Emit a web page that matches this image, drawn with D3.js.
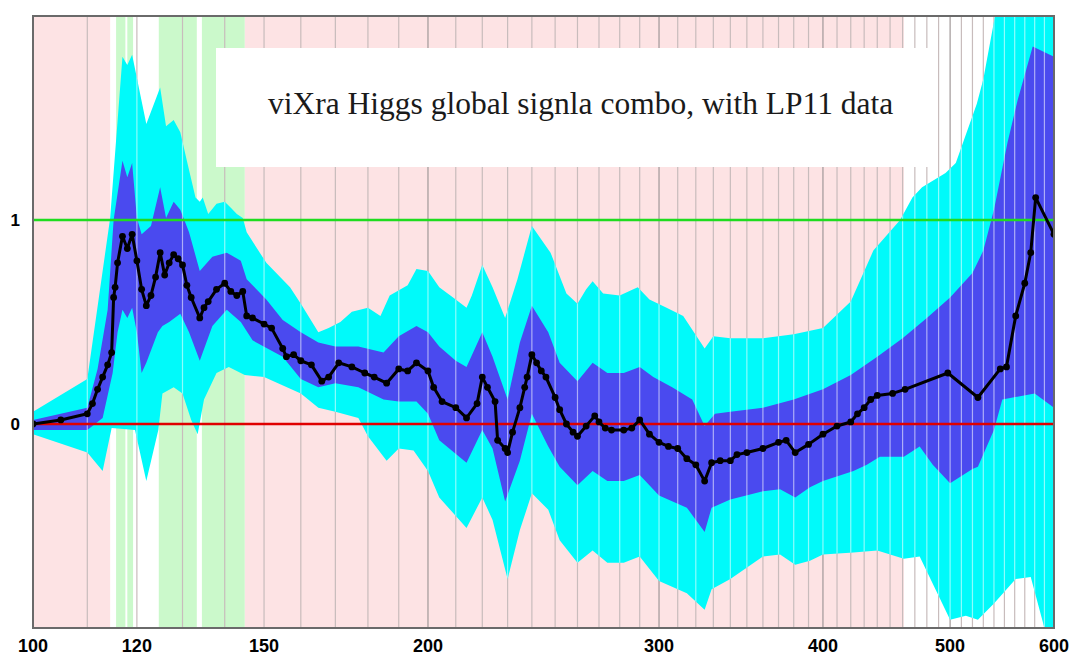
<!DOCTYPE html>
<html>
<head>
<meta charset="utf-8">
<script src="https://cdn.jsdelivr.net/npm/d3@7"></script>
<style>
  body { margin: 0; background: #fff; }
</style>
</head>
<body>
<div id="chart"></div>
<script>
// observed signal (black line with dots)
const obsMass = [100, 105, 110, 111, 112, 113, 114, 114.8, 115.2, 115.5, 116, 117, 118, 119, 120, 121, 122, 123, 124, 125,
  126, 127, 128, 129, 130, 131, 132, 134, 135, 136, 138, 140, 141.5, 143, 144.5, 145.5, 147, 150, 152, 155,
  156, 158, 160, 163, 166, 168, 171, 175, 179, 182, 186, 190, 193, 196, 200, 202, 205, 210, 214, 218,
  220, 222, 225, 226, 229, 230, 232, 235, 237, 238, 240, 242, 244, 246, 250, 252, 255, 258, 260, 264,
  268, 270, 273, 276, 282, 286, 290, 295, 300, 305, 310, 315, 320, 325, 329, 334, 340, 344, 350, 360,
  370, 375, 381, 390, 400, 410, 420, 425, 430, 435, 440, 452, 462, 498, 525, 546, 552, 561, 570, 576, 581, 600];
const obsValue = [0.00, 0.02, 0.05, 0.10, 0.17, 0.23, 0.29, 0.35, 0.62, 0.67, 0.79, 0.92, 0.86, 0.93, 0.80, 0.66, 0.58, 0.63, 0.72, 0.84,
  0.73, 0.79, 0.83, 0.81, 0.78, 0.68, 0.62, 0.52, 0.57, 0.60, 0.66, 0.69, 0.65, 0.63, 0.65, 0.53, 0.52, 0.49, 0.47, 0.37,
  0.33, 0.34, 0.31, 0.29, 0.21, 0.23, 0.30, 0.28, 0.25, 0.23, 0.20, 0.27, 0.26, 0.30, 0.26, 0.18, 0.11, 0.08, 0.03, 0.10,
  0.23, 0.18, 0.11, -0.08, -0.12, -0.14, -0.04, 0.08, 0.18, 0.23, 0.34, 0.30, 0.26, 0.23, 0.13, 0.07, 0.00, -0.04, -0.06, -0.01,
  0.04, 0.01, -0.02, -0.03, -0.03, -0.02, 0.02, -0.05, -0.09, -0.11, -0.12, -0.17, -0.20, -0.28, -0.19, -0.18, -0.18, -0.15, -0.14, -0.12,
  -0.09, -0.08, -0.14, -0.10, -0.05, -0.01, 0.01, 0.05, 0.08, 0.12, 0.14, 0.15, 0.17, 0.25, 0.13, 0.27, 0.28, 0.53, 0.69, 0.84, 1.11, 0.93];

// band edges as [mass, value]
const outerTop = [[100, 0.06], [110, 0.22], [114.5, 1.01], [117, 1.80], [118, 1.76], [119, 1.81], [122, 1.47], [125, 1.65],
  [126.3, 1.46], [128, 1.49], [129.5, 1.43], [131, 1.29], [133, 1.11], [134, 1.09], [134.7, 1.11], [136, 1.03], [138, 1.08],
  [140, 1.09], [141.5, 1.06], [143, 1.03], [144.5, 1.01], [145.5, 0.94], [150.6, 0.79], [157, 0.67], [160, 0.59], [165, 0.45],
  [168, 0.47], [171.5, 0.50], [175, 0.55], [180, 0.57], [184, 0.53], [187, 0.63], [193, 0.68], [196, 0.76], [200, 0.75],
  [204, 0.67], [209, 0.62], [214, 0.57], [216, 0.63], [220, 0.78], [224, 0.67], [229, 0.52], [234, 0.71], [240, 0.97],
  [248, 0.84], [255, 0.64], [260, 0.59], [264, 0.66], [267, 0.70], [272, 0.64], [280, 0.63], [289, 0.67], [295, 0.61],
  [304, 0.57], [313, 0.53], [325, 0.37], [330, 0.43], [340, 0.42], [360, 0.42], [380, 0.44], [400, 0.47], [420, 0.60],
  [437, 0.85], [458, 1.00], [468, 1.11], [476, 1.16], [496, 1.23], [505, 1.28], [524, 1.57], [530, 1.69], [541, 2.0],
  [560, 2.3], [600, 2.3]];
const innerTop = [[100, 0.02], [110, 0.08], [112, 0.27], [114, 0.56], [115.2, 1.00], [117, 1.29], [118, 1.21], [119, 1.28],
  [120, 1.01], [121, 0.93], [123, 0.97], [125, 1.16], [126.3, 1.01], [128, 1.09], [129.5, 1.05], [131.5, 0.94], [134, 0.75],
  [137, 0.82], [140.5, 0.84], [144, 0.80], [145.5, 0.71], [150.6, 0.61], [155, 0.51], [160, 0.45], [165, 0.40], [170, 0.38],
  [177, 0.38], [185, 0.35], [190, 0.43], [196, 0.48], [200, 0.45], [204, 0.38], [210, 0.31], [214, 0.28], [220, 0.45],
  [224, 0.33], [230, 0.12], [235, 0.40], [240, 0.58], [247, 0.45], [252, 0.30], [260, 0.21], [267, 0.30], [274, 0.25],
  [282, 0.25], [290, 0.28], [297, 0.23], [307, 0.18], [318, 0.12], [325, -0.01], [331, 0.05], [340, 0.06], [360, 0.08],
  [380, 0.12], [400, 0.17], [420, 0.24], [440, 0.33], [460, 0.42], [480, 0.52], [500, 0.62], [520, 0.74], [530, 0.85],
  [540, 1.05], [553, 1.38], [563, 1.59], [578, 1.85], [600, 1.80]];
const innerBottom = [[100, -0.03], [110, -0.03], [113, 0.03], [115, 0.25], [116, 0.45], [117, 0.56], [118, 0.52], [119, 0.57],
  [120, 0.45], [121, 0.25], [122, 0.30], [124.5, 0.45], [125.5, 0.48], [127, 0.50], [129.5, 0.54], [131.5, 0.45], [134, 0.31],
  [137, 0.48], [140.5, 0.56], [144, 0.50], [147, 0.41], [155, 0.33], [160, 0.22], [165, 0.18], [170, 0.20], [177, 0.18],
  [185, 0.12], [190, 0.11], [196, 0.11], [200, 0.05], [204, -0.08], [214, -0.19], [220, -0.03], [224, -0.12], [229, -0.38],
  [235, -0.18], [240, 0.05], [247, -0.11], [252, -0.21], [260, -0.30], [267, -0.23], [274, -0.28], [282, -0.28], [290, -0.25],
  [300, -0.35], [315, -0.41], [325, -0.53], [329, -0.41], [340, -0.37], [360, -0.33], [371, -0.32], [381, -0.36], [391, -0.31],
  [400, -0.28], [422, -0.23], [432, -0.20], [442, -0.16], [461, -0.16], [474, -0.11], [485, -0.20], [500, -0.29], [520, -0.22],
  [525, -0.21], [540, -0.03], [548, 0.12], [580, 0.15], [600, 0.08]];
const outerBottom = [[100, -0.05], [110, -0.14], [113, -0.23], [114.8, -0.02], [119.6, -0.03], [122, -0.28], [124.6, -0.03],
  [125.5, 0.15], [128, 0.18], [130, 0.15], [132, 0.02], [133.5, -0.05], [135, 0.12], [138, 0.25], [141, 0.28], [145, 0.24],
  [150, 0.23], [160, 0.15], [165, 0.08], [170, 0.06], [177, 0.03], [180, -0.06], [186, -0.18], [190, -0.12], [195, -0.13],
  [200, -0.23], [204, -0.36], [214, -0.51], [220, -0.36], [224, -0.47], [230, -0.76], [235, -0.52], [240, -0.34], [247, -0.42],
  [252, -0.57], [260, -0.68], [267, -0.62], [274, -0.68], [282, -0.68], [290, -0.65], [300, -0.77], [315, -0.83], [325, -0.91],
  [329, -0.81], [340, -0.76], [360, -0.65], [371, -0.64], [381, -0.69], [391, -0.67], [400, -0.64], [422, -0.63], [440, -0.62],
  [461, -0.66], [474, -0.65], [500, -0.96], [514, -0.94], [525, -0.96], [540, -0.88], [561, -0.76], [576, -0.75], [590, -1.0],
  [600, -1.3]];

// background zones (mass ranges)
const excludedZones = [[100, 114.5], [145, 461]];
const greenZones = [[115.7, 117.6], [118.0, 119.2], [124.7, 133.3], [134.5, 145]];

const xTicks = [100, 120, 150, 200, 300, 400, 500, 600];
const yTicks = [0, 1];
const title = "viXra Higgs global signla combo, with LP11 data";

const width = 1075, height = 655;
const plotL = 33, plotR = 1054, plotT = 16, plotB = 628;

const svg = d3.select("#chart").append("svg")
  .attr("width", width)
  .attr("height", height)
  .style("display", "block");

const x = d3.scaleLog().domain([100, 600]).range([plotL, plotR]);
const y = d3.scaleLinear().domain([-1, 2]).range([plotB, plotT]);

const defs = svg.append("defs");
defs.append("clipPath").attr("id", "plotClip")
  .append("rect")
  .attr("x", plotL).attr("y", plotT)
  .attr("width", plotR - plotL).attr("height", plotB - plotT);

const plot = svg.append("g").attr("clip-path", "url(#plotClip)");

// background
plot.append("rect")
  .attr("x", plotL).attr("y", plotT)
  .attr("width", plotR - plotL).attr("height", plotB - plotT)
  .attr("fill", "#fff");

plot.selectAll(".excl").data(excludedZones).join("rect")
  .attr("class", "excl")
  .attr("x", d => x(d[0])).attr("y", plotT)
  .attr("width", d => x(d[1]) - x(d[0])).attr("height", plotB - plotT)
  .attr("fill", "#fde3e4");

plot.selectAll(".green").data(greenZones).join("rect")
  .attr("class", "green")
  .attr("x", d => x(d[0])).attr("y", plotT)
  .attr("width", d => x(d[1]) - x(d[0])).attr("height", plotB - plotT)
  .attr("fill", "#cbf9cb");

// grid lines every 10 GeV
const gridMasses = d3.range(110, 600, 10);
const isMajor = m => m % 100 === 0;

plot.selectAll(".grid").data(gridMasses).join("line")
  .attr("class", "grid")
  .attr("x1", d => x(d)).attr("x2", d => x(d))
  .attr("y1", plotT).attr("y2", plotB)
  .attr("stroke", d => isMajor(d) ? "#a09898" : "#c8bcbc")
  .attr("stroke-width", 1.2);

// bands
const line = d3.line().x(d => x(d[0])).y(d => y(d[1]));
const bandPath = (hi, lo) => line(hi.concat(lo.slice().reverse())) + "Z";

plot.append("path")
  .attr("d", bandPath(outerTop, outerBottom))
  .attr("fill", "#00fafa");

plot.append("path")
  .attr("d", bandPath(innerTop, innerBottom))
  .attr("fill", "#4a4aef");

// light seams over the bands
defs.append("clipPath").attr("id", "bandClip")
  .append("path")
  .attr("d", bandPath(outerTop, outerBottom));

plot.append("g").attr("clip-path", "url(#bandClip)")
  .selectAll("line").data(gridMasses).join("line")
  .attr("x1", d => x(d)).attr("x2", d => x(d))
  .attr("y1", plotT).attr("y2", plotB)
  .attr("stroke", "#fff")
  .attr("stroke-opacity", 0.55)
  .attr("stroke-width", 1.2);

// reference lines
plot.append("line")
  .attr("x1", plotL).attr("x2", plotR)
  .attr("y1", y(1)).attr("y2", y(1))
  .attr("stroke", "#1fdc1f").attr("stroke-width", 2.5);

plot.append("line")
  .attr("x1", plotL).attr("x2", plotR)
  .attr("y1", y(0)).attr("y2", y(0))
  .attr("stroke", "#e00000").attr("stroke-width", 2.5);

// observed
const obs = obsMass.map((m, i) => [m, obsValue[i]]);

plot.append("path")
  .attr("d", line(obs))
  .attr("fill", "none")
  .attr("stroke", "#000")
  .attr("stroke-width", 3)
  .attr("stroke-linejoin", "round");

plot.selectAll(".dot").data(obs).join("circle")
  .attr("class", "dot")
  .attr("cx", d => x(d[0])).attr("cy", d => y(d[1]))
  .attr("r", 3.4)
  .attr("fill", "#000");

// title box
svg.append("rect")
  .attr("x", 216).attr("y", 48)
  .attr("width", 716).attr("height", 119)
  .attr("fill", "#fff");

svg.append("text")
  .attr("x", 268).attr("y", 114)
  .attr("font-family", "'Liberation Serif', 'Times New Roman', serif")
  .attr("font-size", 31.5)
  .attr("fill", "#1a1a1a")
  .text(title);

// frame
svg.append("rect")
  .attr("x", plotL).attr("y", plotT)
  .attr("width", plotR - plotL).attr("height", plotB - plotT)
  .attr("fill", "none")
  .attr("stroke", "#6a6a6a")
  .attr("stroke-width", 2);

// axis labels
svg.selectAll(".xlab").data(xTicks).join("text")
  .attr("class", "xlab")
  .attr("x", d => x(d)).attr("y", 652)
  .attr("text-anchor", "middle")
  .attr("font-family", "'Liberation Sans', Arial, sans-serif")
  .attr("font-weight", "bold")
  .attr("font-size", 18)
  .attr("fill", "#000")
  .text(d => d);

svg.selectAll(".ylab").data(yTicks).join("text")
  .attr("class", "ylab")
  .attr("x", 20).attr("y", d => y(d) + 6)
  .attr("text-anchor", "end")
  .attr("font-family", "'Liberation Sans', Arial, sans-serif")
  .attr("font-weight", "bold")
  .attr("font-size", 17)
  .attr("fill", "#000")
  .text(d => d);
</script>
</body>
</html>
